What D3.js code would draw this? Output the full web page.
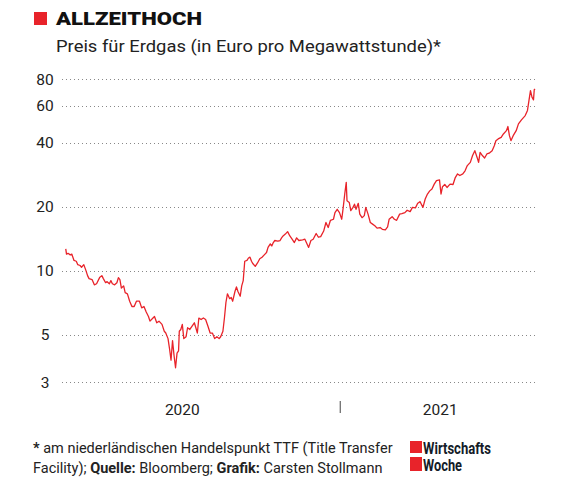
<!DOCTYPE html>
<html>
<head>
<meta charset="utf-8">
<script src="https://cdn.jsdelivr.net/npm/d3@7"></script>
<style>
  body { margin: 0; background: #fff; }
  svg { display: block; font-family: Roboto, "Noto Sans", sans-serif; }
</style>
</head>
<body>
<svg id="svg" width="579" height="483"></svg>
<script>
// Erdgaspreis TTF, Euro pro MWh
const dates = ["2020-01-02","2020-01-03","2020-01-05","2020-01-08","2020-01-10","2020-01-13","2020-01-16","2020-01-18","2020-01-21","2020-01-23",
"2020-01-26","2020-01-29","2020-01-31","2020-02-02","2020-02-06","2020-02-09","2020-02-12","2020-02-16","2020-02-19","2020-02-21",
"2020-02-24","2020-02-26","2020-02-29","2020-03-02","2020-03-04","2020-03-07","2020-03-10","2020-03-12","2020-03-14","2020-03-16",
"2020-03-19","2020-03-21","2020-03-24","2020-03-27","2020-03-30","2020-04-02","2020-04-05","2020-04-09","2020-04-12","2020-04-15",
"2020-04-18","2020-04-21","2020-04-23","2020-04-27","2020-04-29","2020-05-02","2020-05-05","2020-05-09","2020-05-12","2020-05-14",
"2020-05-17","2020-05-19","2020-05-21","2020-05-23","2020-05-25","2020-05-27","2020-05-29","2020-05-31","2020-06-01","2020-06-03",
"2020-06-05","2020-06-07","2020-06-10","2020-06-12","2020-06-15","2020-06-18","2020-06-21","2020-06-23","2020-06-25","2020-06-27",
"2020-06-30","2020-07-03","2020-07-06","2020-07-09","2020-07-12","2020-07-15","2020-07-18","2020-07-21","2020-07-24","2020-07-26",
"2020-07-29","2020-07-31","2020-08-02","2020-08-04","2020-08-07","2020-08-09","2020-08-11","2020-08-14","2020-08-16","2020-08-18",
"2020-08-21","2020-08-23","2020-08-25","2020-08-27","2020-08-30","2020-09-01","2020-09-03","2020-09-05","2020-09-07","2020-09-10",
"2020-09-13","2020-09-16","2020-09-19","2020-09-22","2020-09-25","2020-09-27","2020-09-30","2020-10-02","2020-10-04","2020-10-06",
"2020-10-10","2020-10-13","2020-10-15","2020-10-17","2020-10-20","2020-10-23","2020-10-26","2020-10-29","2020-11-01","2020-11-04",
"2020-11-07","2020-11-12","2020-11-15","2020-11-20","2020-11-23","2020-11-26","2020-11-30","2020-12-03","2020-12-06","2020-12-10",
"2020-12-13","2020-12-16","2020-12-19","2020-12-23","2020-12-25","2020-12-28","2020-12-31","2021-01-03","2021-01-05","2021-01-07",
"2021-01-09","2021-01-10","2021-01-13","2021-01-15","2021-01-18","2021-01-20","2021-01-22","2021-01-25","2021-01-27","2021-01-30",
"2021-02-02","2021-02-04","2021-02-07","2021-02-10","2021-02-13","2021-02-16","2021-02-19","2021-02-23","2021-02-26","2021-03-02",
"2021-03-05","2021-03-07","2021-03-11","2021-03-14","2021-03-17","2021-03-21","2021-03-24","2021-03-28","2021-03-31","2021-04-04",
"2021-04-07","2021-04-11","2021-04-14","2021-04-16","2021-04-17","2021-04-21","2021-04-24","2021-04-27","2021-04-30","2021-05-03",
"2021-05-06","2021-05-09","2021-05-13","2021-05-15","2021-05-17","2021-05-20","2021-05-23","2021-05-27","2021-05-31","2021-06-03",
"2021-06-06","2021-06-09","2021-06-13","2021-06-16","2021-06-19","2021-06-23","2021-06-26","2021-06-29","2021-07-02","2021-07-04",
"2021-07-06","2021-07-09","2021-07-12","2021-07-15","2021-07-18","2021-07-22","2021-07-25","2021-07-27","2021-07-30","2021-08-03",
"2021-08-06","2021-08-10","2021-08-12","2021-08-14","2021-08-16","2021-08-19","2021-08-23","2021-08-26","2021-08-30","2021-09-04",
"2021-09-07","2021-09-09","2021-09-11","2021-09-13","2021-09-15","2021-09-16","2021-09-17"];

const prices = [12.7,12.0,12.1,11.9,12.0,11.2,11.1,10.7,10.6,10.4,
10.7,10.0,9.5,9.2,9.1,8.6,8.7,9.3,9.5,9.2,
8.8,8.9,8.7,9.0,8.7,8.6,8.8,9.3,9.1,8.3,
8.5,7.9,7.8,7.2,6.8,6.8,7.2,7.2,6.7,6.8,
6.4,6.1,5.8,6.0,6.1,5.7,5.8,5.6,5.2,5.1,
4.8,4.3,3.8,4.7,4.0,3.5,4.1,4.2,5.2,5.3,
5.6,4.8,4.9,5.4,5.3,5.5,5.7,5.4,5.1,6.0,
5.9,6.0,5.9,5.5,5.1,5.1,4.8,4.9,4.8,4.9,
5.2,6.0,7.1,7.8,7.4,7.5,7.2,8.0,8.4,8.0,
7.6,8.5,9.0,11.1,11.2,11.5,11.6,11.1,10.8,10.5,
10.9,11.4,11.6,11.9,12.2,12.9,13.4,13.1,13.6,13.9,
13.8,13.9,14.3,14.6,14.9,15.3,14.6,14.1,13.6,14.3,
13.9,14.0,14.1,12.9,13.9,14.1,15.0,14.4,14.5,15.4,
16.9,16.0,17.3,17.5,18.8,19.5,18.8,17.5,19.9,23.0,
26.1,21.4,21.0,19.2,19.9,20.6,19.5,20.8,18.5,17.8,
18.2,19.9,18.5,16.9,16.6,16.3,15.9,16.0,15.7,15.6,
16.1,17.5,18.0,17.5,17.3,18.5,18.6,18.8,19.3,19.0,
19.9,19.8,20.8,21.0,21.2,19.9,21.8,23.0,23.8,24.3,
25.6,26.6,26.8,23.0,24.9,25.5,24.7,25.6,25.5,27.5,
28.6,28.1,28.6,29.6,31.3,32.4,34.9,36.8,34.2,32.4,
36.1,34.9,34.0,35.5,35.8,36.8,38.9,41.0,41.8,42.5,
44.1,45.7,47.8,43.3,41.0,43.3,45.7,49.2,51.4,53.8,
56.9,63.4,70.6,65.7,63.8,71.2,71.8];

const yTicks = [3, 5, 10, 20, 40, 60, 80];
const yearLabels = [["2020", "2020-06-05"], ["2021", "2021-05-14"]];
const yearBreak = "2021-01-01";

const parse = d3.timeParse("%Y-%m-%d");
const data = dates.map((d, i) => ({ date: parse(d), value: prices[i] }));

const svg = d3.select("#svg");
const red = "#e8232a";

const x = d3.scaleTime([parse("2020-01-01"), parse("2021-09-17")], [65, 535]);
const y = d3.scaleLog([3, 80], [382, 79]);

// Kopf
svg.append("rect").attr("x", 34).attr("y", 12).attr("width", 13).attr("height", 13).attr("fill", red);
svg.append("text").attr("x", 56).attr("y", 25).attr("font-size", 18).attr("font-weight", 900)
  .attr("fill", "#111").attr("textLength", 146).attr("lengthAdjust", "spacingAndGlyphs")
  .text("ALLZEITHOCH");
svg.append("text").attr("x", 56).attr("y", 52).attr("font-size", 17).attr("fill", "#222")
  .attr("textLength", 385).attr("lengthAdjust", "spacingAndGlyphs")
  .text("Preis für Erdgas (in Euro pro Megawattstunde)*");

// Gitter
const grid = svg.append("g");
grid.selectAll("line").data(yTicks).join("line")
  .attr("x1", 62).attr("x2", 538)
  .attr("y1", d => Math.round(y(d)) + 0.5).attr("y2", d => Math.round(y(d)) + 0.5)
  .attr("stroke", "#888").attr("stroke-width", 1).attr("stroke-dasharray", "1,3");
grid.selectAll("text").data(yTicks).join("text")
  .attr("x", 45).attr("y", d => y(d) + 5.5).attr("text-anchor", "middle")
  .attr("font-size", 15.5).attr("fill", "#222").text(d => d);

// Jahre
svg.append("line").attr("x1", x(parse(yearBreak))).attr("x2", x(parse(yearBreak)))
  .attr("y1", 401).attr("y2", 413).attr("stroke", "#444").attr("stroke-width", 1);
svg.selectAll(".year").data(yearLabels).join("text").attr("class", "year")
  .attr("x", d => x(parse(d[1]))).attr("y", 415).attr("text-anchor", "middle")
  .attr("font-size", 15.5).attr("fill", "#222").text(d => d[0]);

// Linie
const line = d3.line().x(d => x(d.date)).y(d => y(d.value));
svg.append("path").datum(data).attr("d", line).attr("fill", "none")
  .attr("stroke", red).attr("stroke-width", 1.3).attr("stroke-linejoin", "round");

// Fuss
const foot = svg.append("text").attr("font-size", 14.5).attr("fill", "#222");
const l1 = foot.append("tspan").attr("x", 33).attr("y", 453);
l1.append("tspan").attr("font-weight", 700).text("*");
l1.append("tspan").text(" am niederländischen Handelspunkt TTF (Title Transfer");
const l2 = foot.append("tspan").attr("x", 33).attr("y", 473);
l2.append("tspan").text("Facility); ");
l2.append("tspan").attr("font-weight", 700).text("Quelle:");
l2.append("tspan").text(" Bloomberg; ");
l2.append("tspan").attr("font-weight", 700).text("Grafik:");
l2.append("tspan").text(" Carsten Stollmann");

// Logo
svg.append("rect").attr("x", 410).attr("y", 441).attr("width", 12).attr("height", 12).attr("fill", red);
svg.append("rect").attr("x", 410).attr("y", 457).attr("width", 12).attr("height", 14).attr("fill", red);
svg.append("text").attr("x", 423).attr("y", 453.5).attr("font-size", 16.5).attr("font-weight", 700)
  .attr("fill", "#141c28").attr("textLength", 68).attr("lengthAdjust", "spacingAndGlyphs")
  .text("Wirtschafts");
svg.append("text").attr("x", 423).attr("y", 471).attr("font-size", 16.5).attr("font-weight", 700)
  .attr("fill", "#141c28").attr("textLength", 39).attr("lengthAdjust", "spacingAndGlyphs")
  .text("Woche");
</script>
</body>
</html>
